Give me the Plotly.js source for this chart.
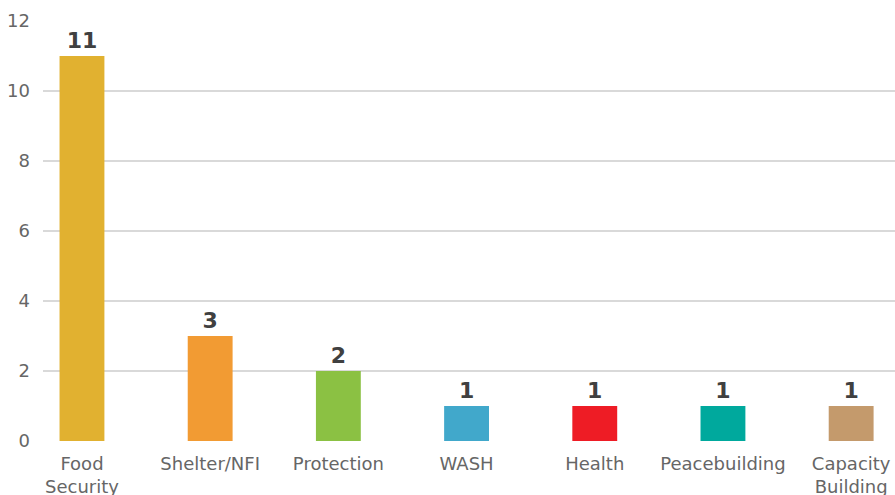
<!DOCTYPE html>
<html><head><meta charset="utf-8">
<script src="https://cdn.plot.ly/plotly-3.0.1.min.js"></script>
<style>html,body{margin:0;padding:0;background:#fff}#chart{width:895px;height:495px}</style>
</head><body><div id="chart"></div>
<script>
const categories = ["Food<br>Security", "Shelter/NFI", "Protection", "WASH", "Health", "Peacebuilding", "Capacity<br>Building"];
const values = [11, 3, 2, 1, 1, 1, 1];
const colors = ["#E1B130", "#F29B33", "#8BC143", "#41A8CB", "#EE1C25", "#00A99D", "#C49A6C"];
const yTicks = [0, 2, 4, 6, 8, 10, 12];

Plotly.newPlot("chart", [{
  type: "bar",
  x: categories,
  y: values,
  marker: {color: colors},
  width: 0.35,
  text: values.map(String),
  textposition: "outside",
  cliponaxis: false,
  textfont: {family: "'DejaVu Sans', sans-serif", size: 22, color: "#404040", weight: 700},
  hoverinfo: "none"
}], {
  width: 895, height: 495,
  margin: {l: 43, r: 0, t: 21, b: 54},
  paper_bgcolor: "#fff", plot_bgcolor: "#fff",
  showlegend: false,
  font: {family: "'DejaVu Sans', sans-serif", color: "#666666", size: 18},
  xaxis: {
    range: [-0.304, 6.342],
    showgrid: false, zeroline: false, showline: false,
    ticks: "", ticklabelstandoff: 10,
    tickfont: {family: "'DejaVu Sans', sans-serif", size: 18, color: "#666666"}, automargin: false
  },
  yaxis: {
    range: [0, 12], tickvals: yTicks,
    showgrid: true, gridcolor: "#d9d9d9", gridwidth: 2,
    zeroline: false, showline: false, ticks: "", ticklabelstandoff: 12,
    tickfont: {family: "'DejaVu Sans', sans-serif", size: 18, color: "#666666"}, automargin: false
  },
  bargap: 0.65
}, {displayModeBar: false, staticPlot: true});
</script></body></html>
